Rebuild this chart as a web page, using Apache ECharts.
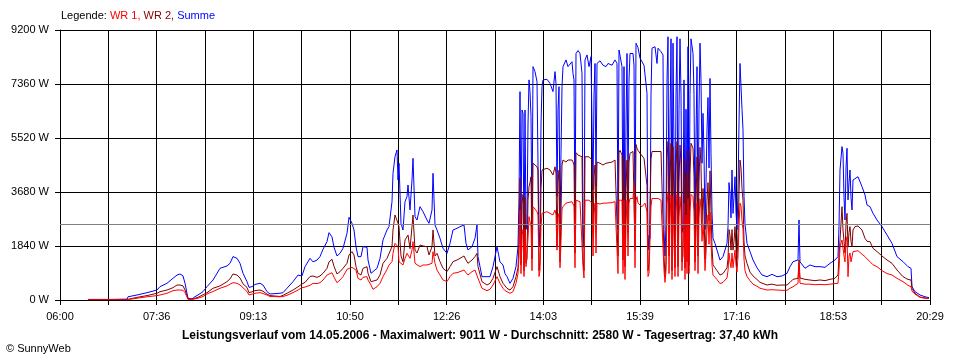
<!DOCTYPE html>
<html><head><meta charset="utf-8">
<script src="https://cdn.jsdelivr.net/npm/echarts@6/dist/echarts.min.js"></script>
<style>html,body{margin:0;padding:0;background:#fff}#c{width:960px;height:360px}</style>
</head><body><div id="c"></div><script>
// x tick labels (every second grid line)
const xLabels = ['06:00','07:36','09:13','10:50','12:26','14:03','15:39','17:16','18:53','20:29'];
const yMax = 9200, yStep = 1840;
const average = 2580; // Durchschnitt
const titleText = 'Leistungsverlauf vom 14.05.2006 - Maximalwert: 9011 W - Durchschnitt: 2580 W - Tagesertrag: 37,40 kWh';

// sample times, minutes after 06:00
const tMin = [
28,50,67,68,77,87,97,100,107,113,
117,120,123,125,127,128,132,135,138,143,
147,153,160,167,170,173,177,180,183,187,
189,192,195,200,203,207,210,220,223,227,
233,238,242,245,250,253,257,260,263,267,
269,272,274,277,280,
283,287,289,292,294,296,298,301,303,307,
308,311,313,317,320,323,327,329,332,333,
335,337,338,339,341,343,345,347,348,350,
352,353,355,357,360,363,367,369,372,373,
375,377,380,383,387,390,393,397,400,404,
406,408,412,415,417,418,422,427,430,433,
437,440,443,445,447,450,453,456,458,459,
460,461,462,463,464,465,466,467,468,469,
470,471,472,473,475,477,478,479,480,481,
482,483,487,490,493,495,496,497,498,499,
500,501,502,503,506,508,512,513,514,515,
516,518,520,522,523,524,525,527,529,531,
532,533,534,535,536,537,540,543,546,548,
552,555,557,558,559,560,562,563,564,565,
566,567,568,569,570,573,574,575,576,577,
578,580,582,584,585,587,588,589,590,591,
592,595,597,598,601,603,604,605,606,607,
608,609,610,611,612,613,614,615,616,617,
618,619,620,621,622,623,624,625,626,627,
628,629,630,631,632,633,634,635,636,637,
638,639,640,641,642,643,644,645,646,647,
648,649,650,651,652,653,655,657,660,663,
667,668,669,670,671,672,673,674,675,676,
677,678,679,680,681,682,683,684,685,687,
690,693,697,700,
702,707,712,717,722,727,730,733,738,739,
740,741,745,750,755,760,765,770,775,778,
779,780,782,783,784,785,786,787,788,789,
790,791,792,793,795,798,802,805,807,810,
813,817,822,827,832,837,843,848,851,852,
855,860,865,869
];

// Summe (W)
const summe = [
20,20,30,110,170,250,340,455,570,740,
850,886,820,570,227,57,35,114,170,284,
455,680,1080,1160,1250,1480,1420,1250,910,625,
430,455,530,570,510,284,205,230,250,400,
625,850,820,1136,1420,1300,1360,1480,1727,1990,
2295,2150,1795,1500,1590,
1761,2272,2817,2613,2386,1818,1477,1477,1818,1795,
1363,909,966,1080,1420,2045,2386,2500,3351,4317,
4885,5112,4090,4658,2613,2386,3351,3522,3919,3067,
4090,4828,2840,2726,3181,3010,2726,2613,3067,4317,
2556,2386,2101,1761,1590,1931,2386,2443,2500,2556,
1931,1704,1818,2101,2556,1477,795,795,795,1136,
1818,1300,1193,900,795,568,738,1136,1818,3500,
7100,2400,6475,6360,1800,6475,2400,2600,6000,7500,
7100,6250,2400,7952,7782,7441,7441,1818,2500,6000,
7270,7500,7520,7380,7100,7782,7380,3530,6500,7270,
2500,5000,7270,7952,8180,7952,8120,7720,7500,2600,
8400,8500,8400,7720,2500,1800,8180,8350,7952,8290,
8350,3750,7000,8060,3860,8060,8150,8000,7952,8060,
8000,8180,8060,2400,8520,8520,7952,2160,7952,1818,
6000,8400,3750,7500,8400,8400,8000,2600,8750,8750,
8600,8240,8120,8000,8000,7040,1700,2200,2100,7000,
8580,8630,8060,8580,8460,8350,2400,1500,2600,7500,
8970,2400,6000,8900,1800,8750,5000,1900,7000,8970,
1930,6500,8900,7000,2300,2500,7500,1930,6500,2500,
8630,2100,7000,8900,8860,8400,7000,2400,5500,7950,
2400,6500,8750,7500,4660,6360,5000,2400,4000,5800,
6900,4500,7550,5000,3000,2100,1930,1700,1360,1480,
1930,2500,4000,3640,2800,4430,2950,3500,4200,3000,
2400,3750,6000,8060,8120,6500,5800,3530,2600,1930,
1650,1363,1100,950,
852,795,875,795,818,909,1136,1306,1363,2726,
1300,1250,1080,1193,1136,1136,1113,1250,1363,1477,
2500,4430,5226,5000,3500,2726,4500,5170,3408,4000,
4430,3500,3067,4090,4146,4200,3862,3578,3237,3180,
2953,2726,2500,2215,1931,1477,1306,1136,1080,454,
284,170,110,80
];

// WR 2 (W)
const wr2 = [
10,10,15,60,90,150,230,284,340,420,
511,511,480,340,150,40,30,60,90,180,
250,400,480,625,720,886,850,750,550,430,
250,280,320,340,300,200,150,120,160,230,
340,450,545,600,800,818,770,820,909,1080,
1300,1386,1150,886,965,
1080,1250,1534,1647,1534,1136,909,852,1080,1136,
909,625,625,682,850,1250,1420,1400,1818,2386,
2897,2840,2613,2500,1500,1300,2045,2101,2215,1750,
2500,2897,1700,1600,1874,1840,1818,1534,1818,2386,
1500,1590,1306,1080,966,1136,1306,1363,1420,1500,
1363,1250,1363,1477,1590,1136,625,511,568,738,
1136,795,568,500,398,340,454,795,1100,2000,
4146,1200,3300,3600,1000,3500,1250,1400,3400,3860,
4000,4200,1400,4658,4600,4540,4430,1000,1300,3800,
4430,4430,4490,4430,4260,4540,4320,1818,4000,4430,
1300,3000,4600,4770,4700,4770,4770,4700,4600,1600,
5020,4940,4940,4880,1363,1000,4880,4940,4880,4880,
4770,2300,4200,4600,2500,4700,4660,4600,4660,4660,
4700,4770,4830,1500,5020,5100,4940,1360,4880,1136,
3800,4770,2300,4700,5000,5060,5000,1700,5300,5170,
5100,5000,4940,4830,4880,3900,1000,1250,1200,4800,
5060,5060,5000,5060,5060,5060,1500,800,1300,4800,
5400,1500,4000,5340,1000,5230,3200,1100,4500,5400,
1136,4000,5280,4600,1300,1500,4800,1100,4300,1300,
5100,1200,4300,5340,5280,5170,4200,1300,3300,4880,
1500,4000,5200,4600,2600,3800,3000,1400,2400,3400,
4000,2700,4400,3000,1800,1200,1100,1000,850,900,
1100,1400,2400,2200,1700,2400,1700,2000,2500,1800,
1400,2300,3600,4770,4500,3800,3400,2000,1500,1250,
950,820,700,600,
560,511,540,500,511,511,600,704,738,1363,
750,700,704,680,660,682,660,704,740,852,
1500,2045,3180,2386,2000,1600,2600,2953,1800,2300,
2500,2000,1818,2386,2500,2522,2386,2100,2000,1988,
1760,1650,1500,1363,1250,1022,795,700,682,397,
227,100,70,50
];

// WR 1 (W)
const wr1 = [
10,10,10,40,60,110,150,170,230,318,
340,340,330,250,100,20,20,40,60,120,
205,290,400,480,540,590,570,510,420,290,
170,200,230,250,220,170,120,110,120,160,
250,340,420,440,500,568,560,590,680,850,
900,930,780,590,682,
795,1045,1113,1113,1080,1022,738,682,772,795,
682,511,364,454,568,795,1045,1193,1306,1590,
1931,1874,1818,1306,1250,1193,1420,1590,1534,1420,
1704,1988,1250,1193,1136,1193,1193,1250,1250,1647,
1250,1022,852,682,625,795,909,932,966,1022,
932,852,966,1022,1022,738,398,318,364,511,
795,568,398,320,284,227,284,568,900,1500,
3067,900,2200,2400,800,2400,1136,1200,2100,2840,
2900,2500,1000,3180,3100,3010,2900,800,1000,2500,
2950,2950,3010,2950,2900,3067,2900,1700,2800,2950,
1100,2000,3100,3180,3300,3300,3350,3300,3200,1100,
3400,3350,3350,3300,1136,750,3400,3400,3400,3350,
3300,1500,2900,3300,1600,3300,3270,3300,3300,3300,
3320,3350,3400,900,3400,3450,3400,900,3400,700,
2600,3400,1500,3300,3460,3460,3900,1100,3400,3520,
3300,3240,3180,3240,3300,3000,800,900,950,3200,
3460,3460,3400,3460,3400,3460,1000,600,1000,3300,
3630,900,2800,3580,700,3520,2000,800,3000,3600,
800,2800,3520,3000,1000,1000,3300,700,2900,900,
3460,900,3000,3600,3580,3520,3000,1000,2300,3300,
900,2800,3450,3100,2000,2600,2000,1000,1600,2400,
2900,1900,3000,2000,1200,850,800,700,560,600,
750,1000,1600,1300,1100,1600,1100,1400,1700,1200,
950,1500,2500,3300,3200,2700,2400,1400,1000,800,
660,540,470,400,
360,340,350,340,330,330,400,450,568,1250,
570,560,540,540,520,530,520,540,560,568,
1000,1818,2045,2000,1500,1300,2000,2158,795,1500,
1600,1300,1250,1647,1680,1680,1560,1477,1400,1306,
1200,1136,1000,900,852,738,625,500,454,300,
200,90,60,50
];

// axis span in seconds after 06:00: 18 grid steps of 2900 s
const xStep = 2900, xMax = 18 * xStep;
const FONT = 'Liberation Sans, Arial, sans-serif';

function pairs(vals) { return tMin.map((t, i) => [t * 60, vals[i]]); }

const rs = c => ({color: c, fontSize: 11, fontWeight: 'normal', fontFamily: FONT});

const chart = echarts.init(document.getElementById('c'), null, {renderer: 'canvas'});
chart.setOption({
  animation: false,
  backgroundColor: '#ffffff',
  textStyle: {fontFamily: FONT},
  title: [
    {
      left: 61, top: 10, padding: 0,
      text: '{k|Legende: }{a|WR 1, }{b|WR 2, }{c|Summe}',
      textStyle: {
        fontWeight: 'normal', fontSize: 11,
        rich: {k: rs('#000000'), a: rs('#ff0000'), b: rs('#800000'), c: rs('#0000ff')}
      }
    },
    {
      left: 'center', top: 330, padding: 0,
      text: titleText,
      textStyle: {color: '#000', fontSize: 12, fontWeight: 'bold', fontFamily: FONT}
    },
    {
      left: 6, top: 343, padding: 0,
      text: '\u00a9 SunnyWeb',
      textStyle: {color: '#000', fontSize: 11, fontWeight: 'normal', fontFamily: FONT}
    }
  ],
  grid: {left: 60, right: 30, top: 30, bottom: 60, containLabel: false},
  xAxis: {
    type: 'value', min: 0, max: xMax, interval: xStep,
    axisLine: {show: true, lineStyle: {color: '#000', width: 1}},
    axisTick: {show: true, length: 5, lineStyle: {color: '#000'}},
    splitLine: {show: true, lineStyle: {color: '#000', width: 1}},
    axisLabel: {
      color: '#000', fontSize: 11, fontFamily: FONT, margin: 11,
      formatter: function (v) {
        const idx = Math.round(v / xStep);
        return idx % 2 === 0 ? xLabels[idx / 2] : '';
      }
    }
  },
  yAxis: {
    type: 'value', min: 0, max: yMax, interval: yStep,
    axisLine: {show: true, lineStyle: {color: '#000', width: 1}},
    axisTick: {show: true, length: 5, lineStyle: {color: '#000'}},
    splitLine: {show: true, lineStyle: {color: '#000', width: 1}},
    axisLabel: {color: '#000', fontSize: 11, fontFamily: FONT, margin: 11,
      formatter: v => v + ' W'}
  },
  series: [
    {
      name: 'Summe', type: 'line', data: pairs(summe), showSymbol: false, symbol: 'none',
      lineStyle: {color: '#0000ff', width: 1}, itemStyle: {color: '#0000ff'},
      markLine: {
        silent: true, symbol: ['none', 'none'], label: {show: false},
        lineStyle: {color: '#808080', type: 'solid', width: 1},
        data: [{yAxis: average}]
      }
    },
    {
      name: 'WR 2', type: 'line', data: pairs(wr2), showSymbol: false, symbol: 'none',
      lineStyle: {color: '#800000', width: 1}, itemStyle: {color: '#800000'}
    },
    {
      name: 'WR 1', type: 'line', data: pairs(wr1), showSymbol: false, symbol: 'none',
      lineStyle: {color: '#ff0000', width: 1}, itemStyle: {color: '#ff0000'}
    }
  ]
});
</script></body></html>
